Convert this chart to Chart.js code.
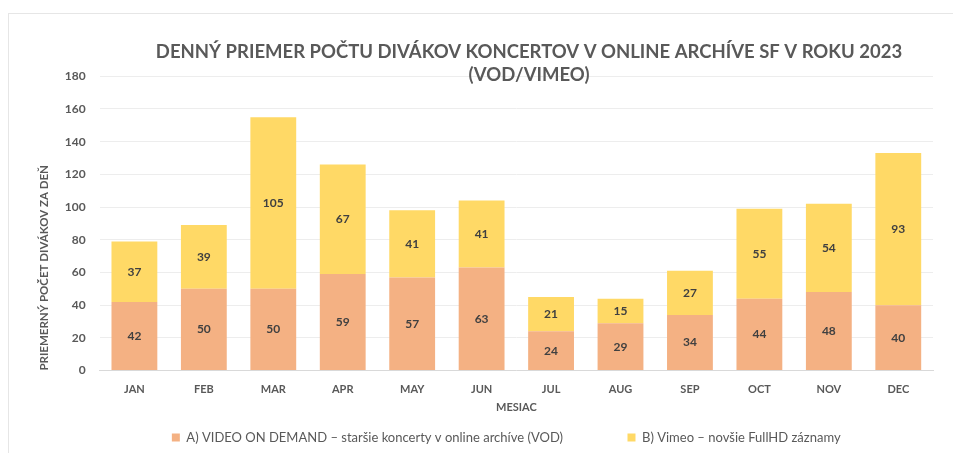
<!DOCTYPE html>
<html>
<head>
<meta charset="utf-8">
<script src="https://cdn.jsdelivr.net/npm/chart.js@4/dist/chart.umd.min.js"></script>
<style>
  body { margin: 0; background: #fff; overflow: hidden; }
  #frame {
    position: absolute; left: 8px; top: 13px; width: 1100px; height: 460px;
    border: 1px solid #e6e6e6; box-sizing: border-box;
  }
  #wrap { position: absolute; left: 0; top: 0; width: 1012px; height: 440px; }
</style>
</head>
<body>
<div id="frame"><div id="wrap"><canvas id="graph-canvas"></canvas></div></div>
<script>
const months = ['JAN', 'FEB', 'MAR', 'APR', 'MAY', 'JUN', 'JUL', 'AUG', 'SEP', 'OCT', 'NOV', 'DEC']
const vod = [42, 50, 50, 59, 57, 63, 24, 29, 34, 44, 48, 40]
const vimeo = [37, 39, 105, 67, 41, 41, 21, 15, 27, 55, 54, 93]
const vodLabel = 'A) VIDEO ON DEMAND – staršie koncerty v online archíve (VOD)'
const vimeoLabel = 'B) Vimeo – novšie FullHD záznamy'

const fontName = 'Lato, "Open Sans", sans-serif'
const textGray = '#595959'

// values in the middle of each bar piece
const barLabels = {
    id: 'barLabels',
    afterDatasetsDraw: (chart) => {
        const ctx = chart.ctx
        ctx.save()
        ctx.font = 'bold 12px ' + fontName
        ctx.fillStyle = '#404040'
        ctx.textAlign = 'center'
        ctx.textBaseline = 'middle'
        chart.data.datasets.forEach((ds, i) => {
            chart.getDatasetMeta(i).data.forEach((bar, j) => {
                const y = (bar.y + bar.base) / 2
                ctx.fillText(ds.data[j], bar.x, y)
            })
        })
        ctx.restore()
    }
}

// extra room between and after the legend items (em / en spaces)
legendLabels = (chart) => {
    const items = Chart.defaults.plugins.legend.labels.generateLabels(chart)
    items[0].text = items[0].text + '\u2003\u2003\u2003\u2003\u2002\u2002\u2002'
    items[1].text = items[1].text + '\u2003\u2003\u2003\u2003\u2002'
    return items
}

createChart = () => {
    new Chart(document.getElementById('graph-canvas'), {
        type: 'bar',
        data: {
            labels: months,
            datasets: [
                { label: vodLabel, data: vod, backgroundColor: '#F4B183' },
                { label: vimeoLabel, data: vimeo, backgroundColor: '#FFD966' }
            ]
        },
        options: {
            responsive: true,
            maintainAspectRatio: false,
            animation: false,
            layout: { padding: { left: 28, right: 0, top: 14, bottom: 0 } },
            datasets: { bar: { barPercentage: 1, categoryPercentage: 0.66 } },
            scales: {
                x: {
                    stacked: true,
                    grid: { display: false },
                    border: { color: '#d9d9d9' },
                    ticks: { color: textGray, font: { family: fontName, size: 11, weight: 'bold' }, padding: 4 },
                    title: { display: true, text: 'MESIAC', color: textGray, font: { family: fontName, size: 11, weight: 'bold' }, padding: { top: 1, bottom: 11 } }
                },
                y: {
                    stacked: true,
                    min: 0, max: 180,
                    grid: { color: '#ededed', drawTicks: false },
                    border: { display: false },
                    ticks: { stepSize: 20, color: textGray, font: { family: fontName, size: 12, weight: 'bold' }, padding: 14 },
                    title: { display: true, align: 'start', text: 'PRIEMERNÝ POČET DIVÁKOV ZA DEŇ', color: textGray, font: { family: fontName, size: 11.5, weight: 'bold' }, padding: { top: 0, bottom: 0 } }
                },
                // empty space on the right, so the title and legend stay centred on the whole box
                yRight: {
                    position: 'right',
                    grid: { display: false },
                    border: { display: false },
                    ticks: { display: false },
                    afterFit: (scale) => { scale.width = 88 }
                }
            },
            plugins: {
                title: {
                    display: true,
                    text: ['DENNÝ PRIEMER POČTU DIVÁKOV KONCERTOV V ONLINE ARCHÍVE SF V ROKU 2023', '(VOD/VIMEO)'],
                    color: textGray,
                    font: { family: fontName, size: 18.5, weight: 'bold', lineHeight: 1.25 },
                    padding: { top: 12, bottom: -10 }
                },
                legend: {
                    position: 'bottom',
                    labels: { color: textGray, font: { family: fontName, size: 13 }, boxWidth: 8, boxHeight: 8, padding: 6, generateLabels: legendLabels }
                },
                tooltip: { enabled: false }
            }
        },
        plugins: [barLabels]
    })
}

createChart()
</script>
</body>
</html>
